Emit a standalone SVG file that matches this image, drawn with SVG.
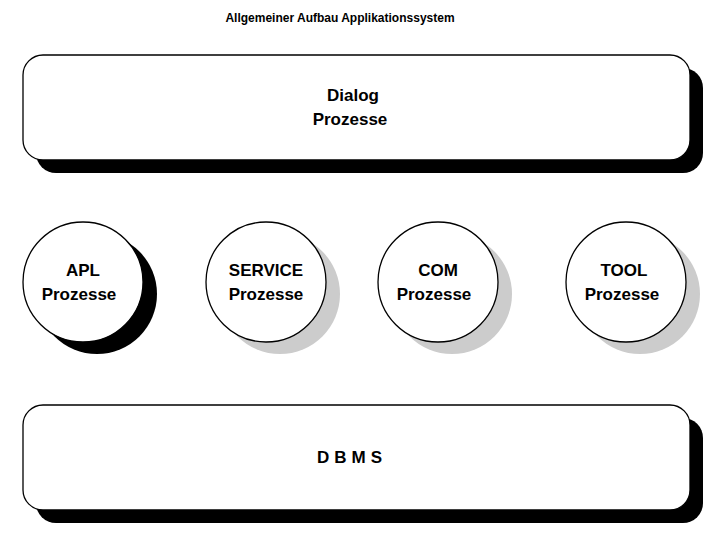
<svg xmlns="http://www.w3.org/2000/svg" width="720" height="537" viewBox="0 0 720 537">
<style>
.t{font-family:"Liberation Sans",Arial,sans-serif;font-weight:bold;fill:#000;text-anchor:middle}
.b{fill:#fff;stroke:#000;stroke-width:1.3}
</style>
<rect width="720" height="537" fill="#fff"/>
<text class="t" x="340" y="22" font-size="12">Allgemeiner Aufbau Applikationssystem</text>
<g id="dialog">
<rect x="36" y="68" width="667" height="105" rx="20" fill="#000"/>
<rect class="b" x="23" y="55" width="667" height="105" rx="20"/>
<text class="t" x="353" y="101" font-size="17">Dialog</text>
<text class="t" x="350" y="125" font-size="17">Prozesse</text>
</g>
<g id="apl">
<circle cx="97" cy="294" r="60" fill="#000"/>
<circle class="b" cx="83" cy="282" r="60"/>
<text class="t" x="83" y="276" font-size="17">APL</text>
<text class="t" x="79" y="300" font-size="17">Prozesse</text>
</g>
<g id="service">
<circle cx="280" cy="294" r="60" fill="#ccc"/>
<circle class="b" cx="266" cy="282" r="60"/>
<text class="t" x="266" y="276" font-size="17">SERVICE</text>
<text class="t" x="266" y="300" font-size="17">Prozesse</text>
</g>
<g id="com">
<circle cx="452" cy="294" r="60" fill="#ccc"/>
<circle class="b" cx="438" cy="282" r="60"/>
<text class="t" x="438" y="276" font-size="17">COM</text>
<text class="t" x="434" y="300" font-size="17">Prozesse</text>
</g>
<g id="tool">
<circle cx="640" cy="294" r="60" fill="#ccc"/>
<circle class="b" cx="626" cy="282" r="60"/>
<text class="t" x="624" y="276" font-size="17">TOOL</text>
<text class="t" x="622" y="300" font-size="17">Prozesse</text>
</g>
<g id="dbms">
<rect x="36" y="418" width="667" height="105" rx="20" fill="#000"/>
<rect class="b" x="23" y="405" width="667" height="105" rx="20"/>
<text class="t" x="352" y="463" font-size="17" letter-spacing="5">DBMS</text>
</g>
<g id="connectors"></g>
</svg>
